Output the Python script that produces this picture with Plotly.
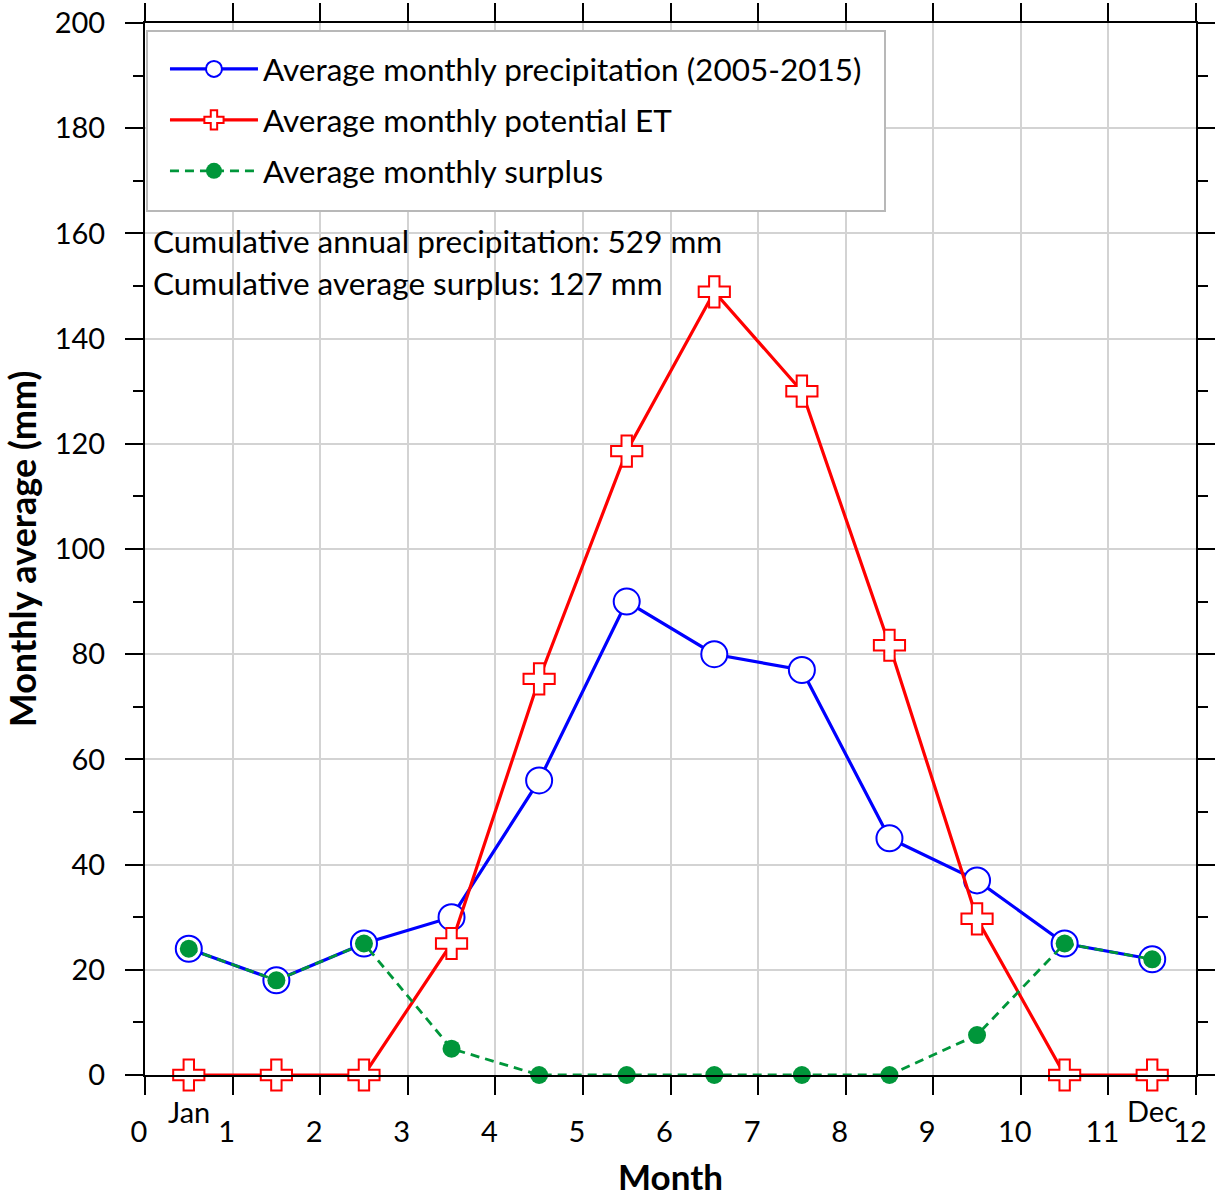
import plotly.graph_objects as go

months_x = [0.5, 1.5, 2.5, 3.5, 4.5, 5.5, 6.5, 7.5, 8.5, 9.5, 10.5, 11.5]
precip = [24, 18, 25, 30, 56, 90, 80, 77, 45, 37, 25, 22]
pet = [0, 0, 0, 25, 75.3, 118.6, 148.9, 130, 81.7, 29.7, 0, 0]
surplus = [24, 18, 25, 5, 0, 0, 0, 0, 0, 7.6, 25, 22]
x_ticks = list(range(0, 13))
y_ticks = list(range(0, 201, 20))

FONT = "Lato"
GREEN = "#00963a"

fig = go.Figure()
fig.add_trace(go.Scatter(
    x=months_x, y=precip, mode="lines+markers",
    name="Average monthly precipitation (2005-2015)", legendgroup="a",
    line=dict(color="#0000ff", width=3.2), cliponaxis=False,
    marker=dict(symbol="circle", size=26, color="white",
                line=dict(color="#0000ff", width=2)),
))
fig.add_trace(go.Scatter(
    x=months_x, y=pet, mode="lines+markers",
    name="Average monthly potential ET", legendgroup="b",
    line=dict(color="#ff0000", width=3.2), cliponaxis=False,
    marker=dict(symbol="cross", size=26, color="white",
                line=dict(color="#ff0000", width=2)),
))
fig.add_trace(go.Scatter(
    x=months_x, y=surplus, mode="lines+markers",
    name="Average monthly surplus", legendgroup="c",
    line=dict(color=GREEN, width=2.8, dash="9px,6px"), cliponaxis=False,
    marker=dict(symbol="circle", size=18, color=GREEN,
                line=dict(color=GREEN, width=0)),
))

fig.update_layout(
    width=1215, height=1197,
    margin=dict(l=145, r=19, t=23, b=122),
    paper_bgcolor="white", plot_bgcolor="white",
    font=dict(family=FONT, size=29, color="black"),
    showlegend=True,
    legend=dict(
        x=0.019, y=0.982, xanchor="left", yanchor="top",
        bgcolor="rgba(0,0,0,0)", borderwidth=0,
        font=dict(family=FONT, size=31.5),
        itemwidth=88, tracegroupgap=7,
    ),
    xaxis=dict(
        range=[0, 12], tickvals=x_ticks, ticktext=[str(v) for v in x_ticks],
        showgrid=True, gridcolor="#d3d3d3", gridwidth=1.5,
        showline=True, linecolor="black", linewidth=2, mirror="allticks",
        ticks="outside", ticklen=18, tickwidth=2, tickcolor="black",
        ticklabelshift=-6, ticklabelstandoff=12,
        tickfont=dict(family=FONT, size=29),
        zeroline=False, automargin=False,
    ),
    yaxis=dict(
        range=[0, 200], tickvals=y_ticks,
        showgrid=True, gridcolor="#d3d3d3", gridwidth=1.5,
        showline=True, linecolor="black", linewidth=2, mirror="allticks",
        ticks="outside", ticklen=18, tickwidth=2, tickcolor="black",
        ticklabelstandoff=14,
        minor=dict(dtick=10, ticks="outside", ticklen=10, tickwidth=2,
                   tickcolor="black", showgrid=False),
        tickfont=dict(family=FONT, size=29),
        zeroline=False, automargin=False,
        title=dict(text="<b>Monthly average (mm)</b>", font=dict(family=FONT, size=36), standoff=12),
    ),
)

# legend frame (opaque, as in the original)
fig.add_shape(type="rect", xref="paper", yref="paper",
              x0=2 / 1051, x1=740 / 1051, y0=864 / 1052, y1=1044 / 1052,
              fillcolor="white", line=dict(color="#b8b8b8", width=2), layer="above")

fig.add_annotation(text="<b>Month</b>", xref="paper", yref="paper", x=0.5, y=0, yshift=-101,
                   xanchor="center", yanchor="middle", showarrow=False,
                   font=dict(family=FONT, size=35))
fig.add_annotation(text="Cumulative annual precipitation: 529 mm", xref="paper", yref="paper",
                   x=0.006, y=0.793, xanchor="left", yanchor="middle", showarrow=False,
                   font=dict(family=FONT, size=31.5))
fig.add_annotation(text="Cumulative average surplus: 127 mm", xref="paper", yref="paper",
                   x=0.006, y=0.753, xanchor="left", yanchor="middle", showarrow=False,
                   font=dict(family=FONT, size=31.5))
fig.add_annotation(text="Jan", xref="x", yref="paper", x=months_x[0], y=0, yshift=-36,
                   yanchor="middle", showarrow=False, font=dict(family=FONT, size=29))
fig.add_annotation(text="Dec", xref="x", yref="paper", x=months_x[-1], y=0, yshift=-35,
                   yanchor="middle", showarrow=False, font=dict(family=FONT, size=29))

fig.write_html("out.html")
